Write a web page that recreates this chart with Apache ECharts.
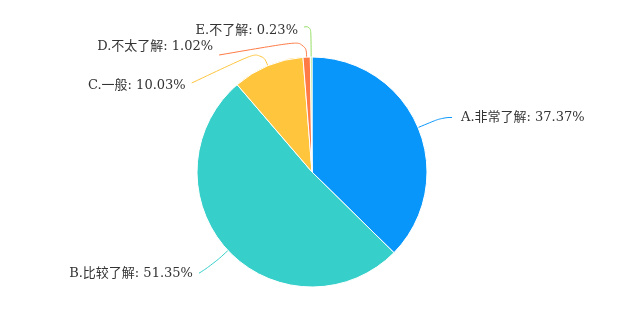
<!DOCTYPE html>
<html><head><meta charset="utf-8">
<script src="https://cdn.jsdelivr.net/npm/echarts@6/dist/echarts.min.js"></script>
<style>html,body{margin:0;padding:0;background:#fff}#c{width:623px;height:312px}</style>
</head><body><div id="c"></div>
<script>
const categories = ['A.非常了解', 'B.比较了解', 'C.一般', 'D.不太了解', 'E.不了解'];
const values = [37.37, 51.35, 10.03, 1.02, 0.23];
const colors = ['#0996fb', '#36cfc9', '#ffc53d', '#ff7a45', '#95de64'];
// label offsets [dx, dy] from default layout, first line segment length, line end y offset
const labelShift = [null, [3, 5, 20, 0], [-29, 25, 17, -3], [-25, 1, 17, 8], [6, 0, 31, -4]];
const CENTER = [312, 172];
const chart = echarts.init(document.getElementById('c'));
chart.setOption({
  animation: false,
  series: [{
    type: 'pie',
    center: CENTER,
    radius: 115,
    startAngle: 90,
    clockwise: true,
    data: categories.map((n, i) => ({name: n, value: values[i], itemStyle: {color: colors[i]}})),
    itemStyle: {borderColor: '#fff', borderWidth: 1},
    label: {
      formatter: p => p.name + ': ' + p.value.toFixed(2) + '%',
      color: '#333', fontSize: 13, distanceToLabelLine: 9,
      fontFamily: '"DejaVu Serif", "Noto Sans CJK SC", sans-serif'
    },
    labelLine: {length: 26, length2: 10, smooth: 0.5},
    labelLayout: p => {
      const s = labelShift[p.dataIndex];
      if (!s) return {};
      const r = p.labelRect;
      const nx = r.x + s[0], ny = r.y + s[1];
      const p0 = p.labelLinePoints[0];
      const vx = p0[0] - CENTER[0], vy = p0[1] - CENTER[1];
      const d = Math.hypot(vx, vy);
      const p1 = [p0[0] + vx / d * s[2], p0[1] + vy / d * s[2]];
      const p2 = [nx + r.width + 6, ny + r.height / 2 + s[3]];
      return {x: nx, y: ny, align: 'left', verticalAlign: 'top', labelLinePoints: [p0, p1, p2]};
    }
  }]
});
</script></body></html>
